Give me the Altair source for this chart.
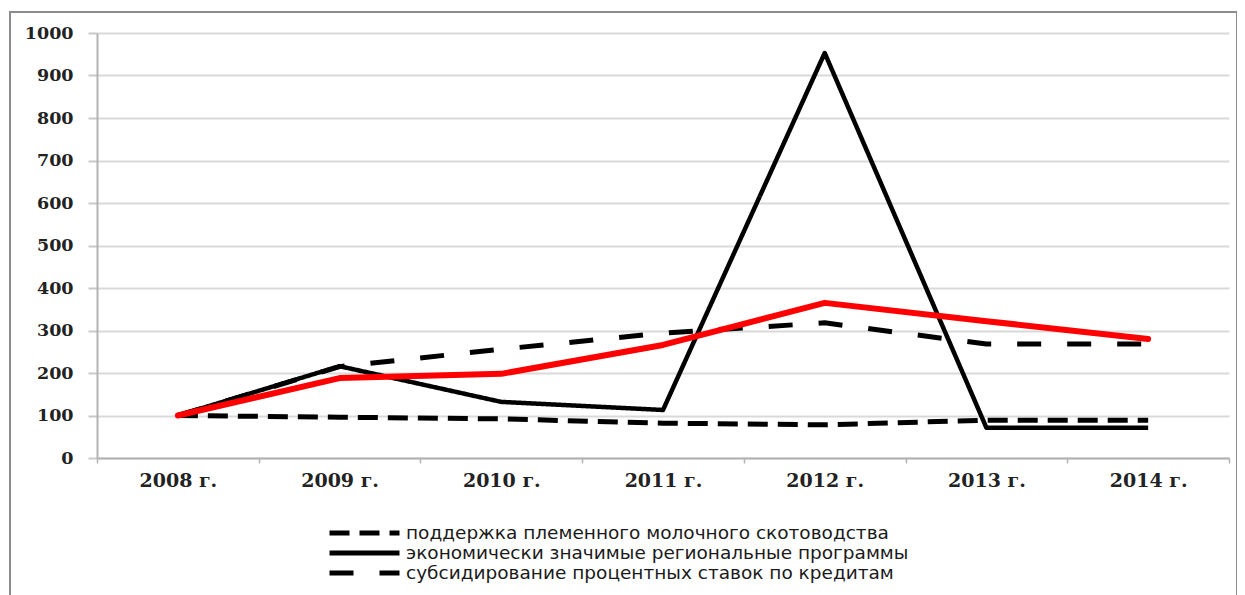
import altair as alt
import pandas as pd

years = ["2008 г.", "2009 г.", "2010 г.", "2011 г.", "2012 г.", "2013 г.", "2014 г."]
series_names = [
    "поддержка племенного молочного скотоводства",
    "экономически значимые региональные программы",
    "субсидирование процентных ставок по кредитам",
]
plem = [100, 96, 92, 82, 78, 89, 89]
econ = [100, 216, 132, 113, 953, 71, 71]
subs = [100, 215, 256, 294, 318, 268, 268]
red_series = [100, 188, 198, 266, 365, 322, 280]

rows = []
for name, vals in zip(series_names, [plem, econ, subs]):
    for y, v in zip(years, vals):
        rows.append({"year": y, "value": v, "series": name})
df = pd.DataFrame(rows)
df_red = pd.DataFrame({"year": years, "value": red_series})

x_enc = alt.X(
    "year:N",
    sort=years,
    bandPosition=0.5,
    scale=alt.Scale(type="band", paddingInner=0, paddingOuter=0),
    axis=alt.Axis(
        title=None, grid=False, labelAngle=0, tickBand="extent", tickSize=5,
        tickColor="#b3b3b3", domainColor="#b3b3b3", domainWidth=2, tickWidth=1.5,
        labelFont="DejaVu Serif", labelFontWeight="bold", labelFontSize=19,
        labelColor="#222222", labelPadding=8,
    ),
)
y_enc = alt.Y(
    "value:Q",
    scale=alt.Scale(domain=[0, 1000], nice=False),
    axis=alt.Axis(
        title=None, values=list(range(0, 1001, 100)), format="d", grid=True,
        gridColor="#d9d9d9", gridWidth=2, tickSize=9, tickColor="#c8c8c8", tickWidth=2,
        domainColor="#b3b3b3", domainWidth=2,
        labelFont="DejaVu Serif", labelFontWeight="bold", labelFontSize=17.5,
        labelColor="#222222", labelPadding=15,
    ),
)

frame = alt.Chart(alt.Data(values=[{}])).mark_rect(
    filled=False, stroke="#8c8c8c", strokeWidth=2
).encode(x=alt.value(-87), x2=alt.value(1140), y=alt.value(-21), y2=alt.value(600))

black = alt.Chart(df).mark_line(color="black", strokeJoin="round").encode(
    x=x_enc,
    y=y_enc,
    detail="series:N",
    strokeDash=alt.StrokeDash(
        "series:N",
        scale=alt.Scale(domain=series_names, range=[[20, 10], [1, 0], [24, 26]]),
        legend=alt.Legend(
            title=None, orient="none", legendX=230, legendY=490, direction="vertical",
            symbolType="stroke", symbolSize=4900, symbolStrokeWidth=5,
            symbolStrokeColor="black", clipHeight=20, padding=0, rowPadding=0,
            labelFont="DejaVu Sans", labelFontSize=18.5, labelColor="#1a1a1a",
            labelLimit=800, labelOffset=4,
        ),
    ),
    strokeWidth=alt.condition(
        alt.datum.series == series_names[1], alt.value(4.5), alt.value(5)
    ),
)

red = alt.Chart(df_red).mark_line(color="#ff0000", strokeWidth=6, strokeJoin="round", strokeCap="round").encode(
    x=x_enc, y=y_enc
)

chart = alt.layer(frame, black, red).properties(
    width=1132,
    height=425,
    autosize=alt.AutoSizeParams(type="none"),
    padding={"left": 89, "top": 25, "right": 8, "bottom": 137},
).configure_view(stroke=None)

chart.save("out.html", embed_options={"renderer": "svg", "actions": False})
